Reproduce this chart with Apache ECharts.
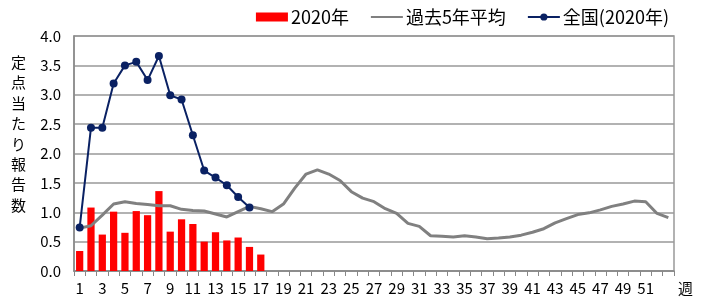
<!DOCTYPE html>
<html>
<head>
<meta charset="utf-8">
<script src="https://cdn.jsdelivr.net/npm/echarts@6/dist/echarts.min.js"></script>
<style>
  html, body { margin: 0; padding: 0; background: #fff; }
  #chart { width: 708px; height: 300px; }
</style>
</head>
<body>
<div id="chart"></div>
<script>
  // 週 1..53
  const weeks = Array.from({ length: 53 }, (_, i) => String(i + 1))

  // 2020年 (bars)
  const pref2020 = [0.34, 1.08, 0.62, 1.01, 0.65, 1.02, 0.95, 1.36, 0.67, 0.88,
    0.80, 0.50, 0.66, 0.52, 0.57, 0.41, 0.28]

  // 過去5年平均
  const avg5y = [0.73, 0.77, 0.95, 1.14, 1.18, 1.15, 1.13, 1.11, 1.11, 1.05,
    1.03, 1.02, 0.97, 0.92, 1.01, 1.10, 1.06, 1.01, 1.14, 1.41,
    1.65, 1.72, 1.65, 1.54, 1.35, 1.24, 1.18, 1.06, 0.98, 0.81,
    0.76, 0.60, 0.59, 0.58, 0.60, 0.58, 0.55, 0.56, 0.58, 0.61,
    0.66, 0.72, 0.82, 0.89, 0.96, 0.99, 1.04, 1.10, 1.14, 1.19,
    1.18, 0.98, 0.91]

  // 全国(2020年)
  const national2020 = [0.74, 2.44, 2.44, 3.19, 3.50, 3.56, 3.25, 3.66, 2.99, 2.92,
    2.31, 1.71, 1.59, 1.46, 1.26, 1.08]

  const yTitle = '定点当たり報告数'
  const font = '"Noto Sans CJK JP", sans-serif'

  const chart = echarts.init(document.getElementById('chart'))

  chart.setOption({
    animation: false,
    textStyle: { fontFamily: font, color: '#000' },
    legend: {
      top: 3,
      right: 34,
      itemWidth: 32,
      itemHeight: 9,
      itemGap: 21,
      textStyle: { fontSize: 18, color: '#000', fontFamily: font, padding: [0, 0, 0, -2] },
      data: [
        { name: '2020年', icon: 'rect' },
        { name: '過去5年平均', itemStyle: { opacity: 0 } },
        { name: '全国(2020年)' }
      ]
    },
    grid: {
      left: 74, right: 34, top: 36, bottom: 29,
      show: true, borderColor: '#999', borderWidth: 1.5
    },
    graphic: [{
      type: 'text',
      left: 11,
      top: 52,
      style: {
        text: yTitle.split('').join('\n'),
        font: '15px ' + font,
        fill: '#000',
        lineHeight: 20.4
      }
    }],
    xAxis: {
      type: 'category',
      data: weeks,
      boundaryGap: true,
      name: '週',
      nameLocation: 'end',
      nameGap: 4,
      nameTextStyle: { fontSize: 15, color: '#000', verticalAlign: 'top', padding: [10, 0, 0, 0] },
      axisLine: { lineStyle: { color: '#888', width: 1.5 } },
      axisTick: { show: true, length: 5, interval: 0, lineStyle: { color: '#888' } },
      axisLabel: {
        interval: 0,
        fontSize: 15,
        color: '#000',
        margin: 10,
        formatter: (v) => (Number(v) % 2 === 1 && Number(v) < 53 ? v : '')
      },
      splitLine: { show: false }
    },
    yAxis: {
      type: 'value',
      min: 0,
      max: 4,
      interval: 0.5,
      axisLine: { show: true, lineStyle: { color: '#888', width: 1.5 } },
      axisTick: { show: false },
      axisLabel: {
        fontSize: 15,
        color: '#000',
        margin: 13,
        formatter: (v) => v.toFixed(1)
      },
      splitLine: { show: true, lineStyle: { color: '#999', width: 1.5 } }
    },
    series: [
      {
        name: '2020年',
        type: 'bar',
        data: pref2020,
        barCategoryGap: '36%',
        itemStyle: { color: '#ff0000' }
      },
      {
        name: '過去5年平均',
        type: 'line',
        data: avg5y,
        symbol: 'none',
        lineStyle: { color: '#808080', width: 3 },
        itemStyle: { color: '#808080' }
      },
      {
        name: '全国(2020年)',
        type: 'line',
        data: national2020,
        symbol: 'circle',
        symbolSize: 8,
        lineStyle: { color: '#0a2163', width: 2 },
        itemStyle: { color: '#0a2163' }
      }
    ]
  })
</script>
</body>
</html>
